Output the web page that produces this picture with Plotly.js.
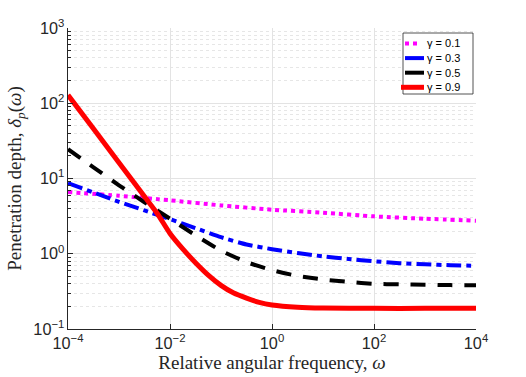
<!DOCTYPE html>
<html>
<head>
<meta charset="utf-8">
<script src="https://cdn.plot.ly/plotly-3.0.1.min.js"></script>
<style>
    html, body { margin: 0; padding: 0; background: #fff; }
    #chart { width: 526px; height: 377px; }
</style>
</head>
<body>
<div id="chart"></div>
<script>
// ── Penetration depth vs relative angular frequency (log-log) ────────────────

// exponents of ω where the curves were read
const logOmegaFine = [-4, -3.5, -3, -2.5, -2.25, -2, -1.75, -1.5, -1.25, -1, -0.75, -0.5, -0.25, 0, 0.5, 1, 2, 3, 4];
const logOmegaHalf = [-4, -3.5, -3, -2.5, -2, -1.5, -1, -0.5, 0, 0.5, 1, 1.5, 2, 2.5, 3, 3.5, 4];
const logOmegaDecade = [-4, -3, -2, -1, 0, 1, 2, 3, 4];

// δ_p(ω) values
const delta01 = [6.61, 5.89, 5.13, 4.39, 3.85, 3.51, 3.14, 2.92, 2.75];
const delta03 = [8.71, 6.53, 4.90, 3.76, 2.88, 2.19, 1.66, 1.33, 1.15, 1.02, 0.923, 0.851, 0.794, 0.750, 0.724, 0.705, 0.692];
const delta05 = [24.5, 14.1, 8.13, 4.84, 2.92, 1.76, 1.10, 0.776, 0.605, 0.508, 0.455, 0.422, 0.398, 0.392, 0.386, 0.383, 0.380];
const delta09 = [128.8, 45.7, 16.2, 5.75, 3.43, 1.86, 1.16, 0.76, 0.52, 0.38, 0.30, 0.257, 0.226, 0.209, 0.195, 0.19, 0.188, 0.188, 0.188];

// tick labels that Plotly would otherwise print as plain numbers
const tickAlias = { '1': '10<sup>0</sup>', '10': '10<sup>1</sup>' };

const seriesNames = ['γ = 0.1', 'γ = 0.3', 'γ = 0.5', 'γ = 0.9'];
const seriesColors = ['#ff00ff', '#0000ff', '#000000', '#ff0000'];
const seriesDash = ['dot', '15px,5px,5px,5px', '15px,12px', 'solid'];
const seriesWidth = [4, 4, 4, 5];

const pow10 = a => a.map(v => Math.pow(10, v));
const xs = [pow10(logOmegaDecade), pow10(logOmegaHalf), pow10(logOmegaHalf), pow10(logOmegaFine)];
const ys = [delta01, delta03, delta05, delta09];

const traces = seriesNames.map((name, i) => ({
    type: 'scatter', mode: 'lines', name,
    x: xs[i], y: ys[i],
    line: { color: seriesColors[i], dash: seriesDash[i], width: seriesWidth[i], shape: 'spline', smoothing: 0.6 },
    showlegend: false,
}));

// ── legend drawn by hand (MATLAB-style compact box) ──────────────────────────
const L = 68, R = 476, T = 28, B = 329;
const px = v => (v - L) / (R - L);
const py = v => (B - v) / (B - T);

const shapes = [{
    type: 'rect', xref: 'paper', yref: 'paper',
    x0: px(403), x1: px(473), y0: py(94), y1: py(33),
    fillcolor: '#ffffff', line: { color: '#262626', width: 0.8 },
}];
const annotations = [];
seriesNames.forEach((name, i) => {
    const rowY = 43.5 + i * 14.6;
    shapes.push({
        type: 'line', xref: 'paper', yref: 'paper',
        x0: px(i === 3 ? 401 : 405), x1: px(i === 0 ? 420 : 424), y0: py(rowY), y1: py(rowY),
        line: { color: seriesColors[i], width: seriesWidth[i], dash: i === 0 ? 'dot' : 'solid' },
    });
    annotations.push({
        xref: 'paper', yref: 'paper', x: px(425), y: py(rowY),
        xanchor: 'left', yanchor: 'middle', showarrow: false,
        text: name, font: { family: 'Liberation Sans, Arial, sans-serif', size: 11, color: '#000' },
    });
});

const axisCommon = {
    type: 'log',
    showline: true, linecolor: '#262626', linewidth: 1, mirror: false,
    ticks: 'inside', ticklen: 5, tickcolor: '#262626',
    showgrid: true, gridcolor: '#e3e3e3', gridwidth: 1,
    zeroline: false,
    exponentformat: 'power',
    labelalias: tickAlias,
    tickfont: { family: 'Liberation Sans, Arial, sans-serif', size: 13, color: '#262626' },
};
const titleFont = { family: 'Liberation Serif, Times New Roman, serif', size: 19, color: '#262626' };

Plotly.newPlot('chart', traces, {
    width: 526, height: 377,
    paper_bgcolor: '#fff', plot_bgcolor: '#fff',
    margin: { l: L, r: 526 - R, t: T, b: 377 - B },
    showlegend: false,
    xaxis: Object.assign({}, axisCommon, {
        range: [-4, 4], dtick: 2,
        title: { text: 'Relative angular frequency, <i>ω</i>', standoff: 4, font: titleFont },
    }),
    yaxis: Object.assign({}, axisCommon, {
        range: [-1, 3], dtick: 1,
        minor: { ticks: 'inside', ticklen: 3, tickcolor: '#262626', showgrid: true, gridcolor: '#e6e6e6', griddash: 'dot' },
        title: { text: 'Penetration depth, <i>δ<sub>p</sub></i>(<i>ω</i>)', standoff: 6, font: titleFont },
    }),
    shapes, annotations,
}, { displayModeBar: false, staticPlot: true });
</script>
</body>
</html>
